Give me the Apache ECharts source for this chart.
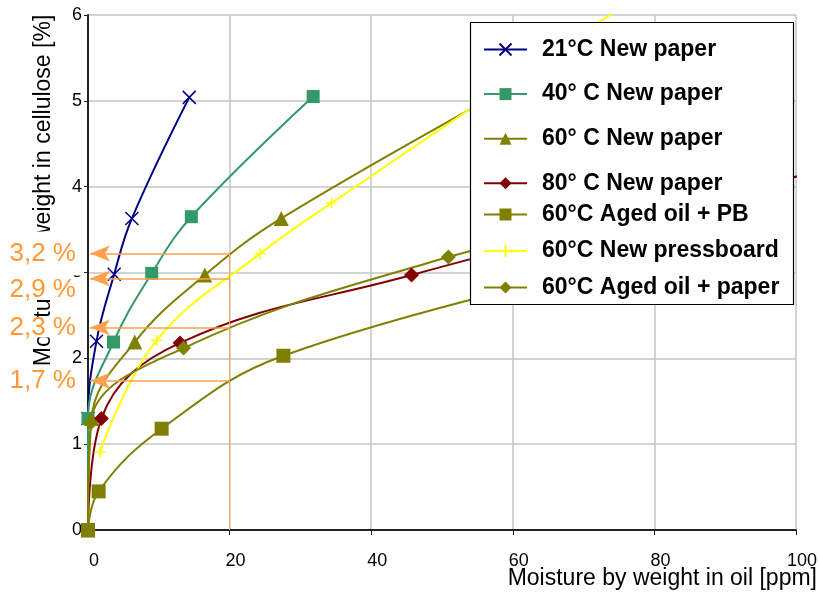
<!DOCTYPE html>
<html><head><meta charset="utf-8">
<script src="https://cdn.jsdelivr.net/npm/echarts@6/dist/echarts.min.js"></script>
<style>html,body{margin:0;padding:0;background:#fff}#c{width:820px;height:598px}</style>
</head><body><div id="c"></div>
<script>
const seriesNames = ['21°C New paper', '40° C New paper', '60° C New paper', '80° C New paper',
  '60°C Aged oil + PB', '60°C New pressboard', '60°C Aged oil + paper'];
const newPaper21 = [[0,0],[0,1.3],[1.2,2.2],[3.7,2.98],[6.2,3.63],[14.3,5.04]];
const newPaper40 = [[0,0],[0,1.3],[3.6,2.19],[9.0,2.99],[14.6,3.65],[31.8,5.05]];
const newPaper60 = [[0,0],[0.5,1.3],[6.6,2.19],[16.5,2.97],[27.3,3.63],[61,5.22]];
const newPaper80 = [[0,0],[1.9,1.3],[13.0,2.18],[45.7,2.97],[75,3.6],[105,4.22]];
const agedOilPB60 = [[0,0],[1.5,0.45],[10.4,1.18],[27.6,2.03],[75,3.1]];
const pressboard60 = [[1.7,0.91],[9.7,2.21],[24.3,3.22],[34.4,3.81],[62,5.35],[80,6.35]];
const agedOilPaper60 = [[0,0],[0.4,1.25],[13.5,2.12],[50.9,3.18],[72,3.55]];
const xTicks = {min: 0, max: 100, interval: 20};
const yTicks = {min: 0, max: 6, interval: 1};
const readLevels = [3.22, 2.93, 2.36, 1.74];
const readLabels = ['3,2 %', '2,9 %', '2,3 %', '1,7 %'];
const readOilPpm = 20;
const arrowTipPpm = 0.28;

const FONT = 'Liberation Sans, Arial, sans-serif';
const ORANGE = '#FF9933';
const colors = ['#000080', '#339966', '#808000', '#800000', '#808000', '#FFFF00', '#808000'];
const symbols = ['path://M0,0L10,10M10,0L0,10', 'rect', 'triangle', 'diamond', 'rect', 'path://M5,0L5,10M0,5L10,5', 'diamond'];
const symSizes = [13, 13, 15, 15, 14, 11, 15];
const datasets = [newPaper21, newPaper40, newPaper60, newPaper80, agedOilPB60, pressboard60, agedOilPaper60];

const series = datasets.map((d, i) => ({
  name: seriesNames[i], type: 'line', data: d, smooth: 0.4,
  symbol: symbols[i], symbolSize: symSizes[i], clip: true,
  lineStyle: {color: colors[i], width: 2},
  itemStyle: {color: colors[i], borderColor: colors[i], borderWidth: (i === 0 || i === 5) ? 1.5 : 0},
  emphasis: {disabled: true}
}));

// annotation arrows
const labelPad = [[0,8,24,6],[1,8,0,6],[0,8,0,6],[0,8,0,6]];
const labelVAlign = ['middle', 'top', 'middle', 'middle'];
const drawOrder = [1, 2, 3, 0];
series.push({
  name: 'reading', type: 'line', data: [], clip: false, silent: true, z: 6,
  markLine: {
    silent: true, symbol: ['none', 'arrow'], symbolSize: [12, 20], z: 6,
    lineStyle: {color: '#FFA04D', width: 1.5, type: 'solid'},
    itemStyle: {color: ORANGE},
    emphasis: {disabled: true},
    data: drawOrder.map(i => [
      {coord: [readOilPpm, readLevels[i]], label: {show: true, position: 'end', formatter: readLabels[i],
        color: ORANGE, fontSize: 26, fontFamily: FONT, lineHeight: 20, backgroundColor: '#ffffff',
        padding: labelPad[i], distance: 6, verticalAlign: labelVAlign[i]}},
      {coord: [arrowTipPpm, readLevels[i]]}
    ])
  }
});
series.push({
  name: 'vline', type: 'line', data: [], clip: false, silent: true,
  markLine: {
    silent: true, symbol: 'none', label: {show: false},
    lineStyle: {color: '#F7A95C', width: 1, type: 'solid'},
    emphasis: {disabled: true},
    data: [[{coord: [readOilPpm, 0]}, {coord: [readOilPpm, readLevels[0]]}]]
  }
});

const legendBase = {
  orient: 'vertical', left: 483, itemWidth: 43, itemHeight: 15, padding: 0,
  selectedMode: false, z: 5,
  textStyle: {fontSize: 23, fontWeight: 'bold', color: '#000', fontFamily: FONT, lineHeight: 22, padding: [0,0,0,10]}
};

const chart = echarts.init(document.getElementById('c'), null, {renderer: 'canvas'});
chart.setOption({
  animation: false,
  backgroundColor: '#fff',
  grid: {left: 88, right: 23, top: 15, bottom: 68, containLabel: false},
  xAxis: {
    type: 'value', min: xTicks.min, max: xTicks.max, interval: xTicks.interval,
    axisLine: {show: true, onZero: false, lineStyle: {color: '#222', width: 2}},
    axisTick: {show: true, length: 5, lineStyle: {color: '#222', width: 1}},
    axisLabel: {fontSize: 18, color: '#000', fontFamily: FONT, margin: 22, padding: [0,0,0,12]},
    splitLine: {show: true, lineStyle: {color: '#c4c4c4', width: 1.5}}
  },
  yAxis: {
    type: 'value', min: yTicks.min, max: yTicks.max, interval: yTicks.interval,
    name: 'Moisture by weight in cellulose [%]', nameLocation: 'middle', nameRotate: 90, nameGap: 33,
    nameTextStyle: {fontSize: 23, color: '#000', fontFamily: FONT, padding: [0,0,0,164]},
    axisLine: {show: true, onZero: false, lineStyle: {color: '#222', width: 2}},
    axisTick: {show: true, length: 4, lineStyle: {color: '#222', width: 1}},
    axisLabel: {fontSize: 18, color: '#000', fontFamily: FONT, margin: 6},
    splitLine: {show: true, lineStyle: {color: '#c4c4c4', width: 1.5}}
  },
  legend: [
    Object.assign({}, legendBase, {data: seriesNames.slice(0, 4), top: 38, itemGap: 21.6}),
    Object.assign({}, legendBase, {data: seriesNames.slice(4), top: 203, itemGap: 13.5})
  ],
  graphic: [
    {type: 'rect', z: 4, shape: {x: 470.5, y: 22.5, width: 323, height: 282},
      style: {fill: '#fff', stroke: '#000', lineWidth: 1.2}},
    {type: 'text', z: 1, x: 817, y: 579,
      style: {text: 'Moisture by weight in oil [ppm]', font: '23px ' + FONT, fill: '#000',
        align: 'right', verticalAlign: 'middle'}}
  ],
  series: series
});
</script></body></html>
